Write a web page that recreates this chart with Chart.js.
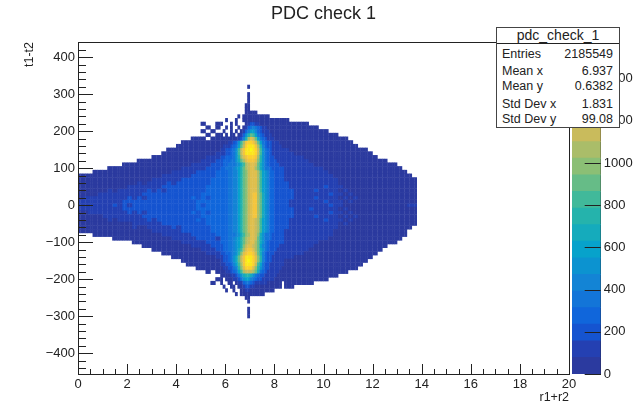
<!DOCTYPE html>
<html><head><meta charset="utf-8">
<script src="https://cdn.jsdelivr.net/npm/chart.js@4"></script>
<style>
html,body{margin:0;padding:0;background:#fff;width:637px;height:405px;overflow:hidden;font-family:"Liberation Sans",sans-serif}
#main{position:absolute;left:0;top:0}
#bar{position:absolute;left:560px;top:0}
#stats{position:absolute;left:496px;top:27px;width:122px;height:99px;border:1px solid #444;background:#fff;color:#222;z-index:5;font-size:12.5px}
#stats .t{position:absolute;left:0;right:0;top:0;height:15px;line-height:15px;border-bottom:1px solid #222;text-align:center;font-size:14px}
#stats .r{position:absolute;left:5px;right:6px;display:flex;justify-content:space-between;line-height:14px}
</style></head><body>
<canvas id="main" width="637" height="405"></canvas>
<canvas id="bar" width="77" height="405"></canvas>
<div id="stats"><div class="t">pdc_check_1</div></div>
<script>
const titleText = "PDC check 1";
const xTitle = "r1+r2";
const yTitle = "t1-t2";
const statNames = ["Entries","Mean x","Mean y","Std Dev x","Std Dev y"];
const statValues = ["2185549","6.937","0.6382","1.831","99.08"];
const palette = ["#2b3a9f","#2440b2","#1554d0","#1066db","#1375d8","#1384d5","#0c93d0","#07a2cb","#15abbc","#25b3ac","#41b99a","#66bc87","#8bbf75","#aabd69","#c9bb5c","#dfbf4d","#f4c53c","#fdd12c","#fbe61d","#f9fb0e"];
const zStep = 78.65;
const zTickValues = [0,200,400,600,800,1000,1200,1400];
const outerColWidth = 0.2;
const bandColWidth = 0.1;
const rowHeight = 10;
const rowCenters = [320,310,300,290,280,270,260,250,240,230,220,210,200,190,180,170,160,150,140,130,120,110,100,90,80,70,60,50,40,30,20,10,0,-10,-20,-30,-40,-50,-60,-70,-80,-90,-100,-110,-120,-130,-140,-150,-160,-170,-180,-190,-200,-210,-220,-230,-240,-250,-260,-270,-280,-290,-300];
const cellRows = [
"|...........0..............|",
"|..........................|",
"|...........0..............|",
"|...........0..............|",
"|...........0..............|",
"|..........00..............|",
"|..........00..............|",
"|..........00000...........|",
"|.......0.00000000000......|",
"|..0...0..00000000000000000|0",
"0..0|0...0.0...0122110000000000|00000",
"0.0|..0.0..0.01345432110000000|0000000",
".0.0.|.0..0.0.013577532111000000|000000000",
".0.0|0.0.00.01369ba743211100000|00000000000",
"000.00|00000001259dfeb74321110000|0000000000000",
"00000000|00011236adghhgeb7432211100|00000000000000",
"000000000|01112347behiiigd9532211110|000000000000000",
"00000000000|1122346aegiijihea643211111|10000000000000000",
"000000000001|1122346aegiiiihea643211111|110000000000000000",
"00000000000111|22333469dfghhhgd9643221111|1111000000000000000",
"00000000000001112|23334468bdfgggfc9643222111|111110000000000000000",
"00000000000000111122|233444568adeffeb8643222211|11111100000000000000000",
"00000000000000011111222|334445679bdeffdb8644322222|111111110000000000000000",
"00000000000000001111122223|333445579bcefffda765332222|1111111110000000000000000",
"00000000000000000111111222223|333445579bcefffda765332222|11111111110000000000000000",
"00000000000000011111122222233|333445579bcefffda765332222|111111111110000000000000000",
"00000000000010111121222222233|333445579bcefffda765332222|211111111110000000000000000",
"00000000001111111222222222333|333445579bcefffda765332222|211111112111000000000000000",
"00000010111111212122222222333|333445579bcefffda765332222|221111211110100000000000000",
"00001111111112222222222223333|333445579bcefggdb865332222|221111111211010000000000000",
"01111111112121222222222323233|333445579bcefggdb865332222|221111211110101000000000000",
"11111111122222222222222233333|333445579bcefggdb865332222|211111112111010000000000000",
"11111112121222222222222232333|333445579bcefggdb865332222|211111111211000000000000011",
"11111111122222222222222233333|333445579bcefggdb865332222|221112111110100000000000000",
"00111111112121222222222323233|333445579bcefggdb865332222|221111111211010000000000000",
"00000111111112222222222223333|333445579bcefggdb865332222|221111211110101000000000000",
"00000010111111212222222232333|333445579bceffeda765332222|211111112111010000000000000",
"00000000000111111222222222333|333445579bceffeda765332222|211111111110100000000000000",
"00000000000100111112122222233|333445579bceffeda765332222|21111111111000000000000000",
"00000000000000011111122222233|333445579bceffeda765332222|1111111111000000000000000",
"00000000000000111111222223|333444568acdffec8644322222|1111111111000000000000000",
"0000000000001111122221|333445679bdeffeb8644322222|111111111000000000000000",
"000000000011111222|333445679bdeffdb8643222222|11111110000000000000000",
"0000000000111122|233445679ceffedb7543222211|111111000000000000000",
"00000000001112|23344568adfggfdb8643222111|11111000000000000000",
"000000000111|22334569cfghhgeb8532221111|1111000000000000000",
"0000000001|1223468begiiihfc9532211111|110000000000000000",
"00000000|1223468begijihfc9532211111|00000000000000000",
"0000000|1122357adgiiihea7422111111|0000000000000000",
"00000|01122459cfhhhfc96422111110|000000000000000",
"0.0|00112347adeeedb84321111100|0000000000000",
".|00001124689986432211111000|00000000000",
".0|0.000112467754322111110000|000000000",
"0.|0..00.0113443211111000000|000000",
"|.0..00.001221100000000000|00",
"|..0..0..00110000000000....|",
"|......0.0000000000.......|",
"|..........00..............|",
"|...........0..............|",
"|..........................|",
"|...........0..............|",
"|...........0..............|",
"|...........0..............|"
];
const bandStartX = 5.8;
const bandEndX = 8.4;
const levelChars = "0123456789abcdefghij";
const xTickStep = 0.5, yTickStep = 20;

const ink = "#222";
const fontFamily = '"Liberation Sans", sans-serif';

// turn the typed rows into one floating-bar dataset per colour level
const cellsByLevel = palette.map(() => []);
cellRows.forEach((row, r) => {
  const [left, band, right] = row.split("|");
  const span = [rowCenters[r] - rowHeight * 0.56, rowCenters[r] + rowHeight * 0.56];
  const put = (ch, x) => {
    const lv = levelChars.indexOf(ch);
    if (lv >= 0) cellsByLevel[lv].push({x: +x.toFixed(2), y: span});
  };
  const putOuter = (ch, x0) => { put(ch, x0 + 0.05); put(ch, x0 + 0.15); };
  [...left].forEach((ch, i) => putOuter(ch, bandStartX - (left.length - i) * outerColWidth));
  [...band].forEach((ch, i) => put(ch, bandStartX + (i + 0.5) * bandColWidth));
  [...right].forEach((ch, i) => putOuter(ch, bandEndX + i * outerColWidth));
});

function inwardTicks(scaleId, majorTest, majorLen, minorLen, frame) {
  return {
    id: "ticks" + scaleId,
    afterDatasetsDraw(chart) {
      const ctx = chart.ctx, a = chart.chartArea, s = chart.scales[scaleId];
      ctx.save();
      ctx.strokeStyle = ink; ctx.lineWidth = 1;
      ctx.beginPath();
      s.ticks.forEach(t => {
        const len = majorTest(t.value) ? majorLen : minorLen;
        if (!len) return;
        const p = Math.round(s.getPixelForValue(t.value)) + 0.5;
        if (s.axis === "x") { ctx.moveTo(p, a.bottom); ctx.lineTo(p, a.bottom - len); }
        else if (s.position === "left") { ctx.moveTo(a.left, p); ctx.lineTo(a.left + len, p); }
        else { ctx.moveTo(a.right, p); ctx.lineTo(a.right - len, p); }
      });
      ctx.stroke();
      if (frame) {
        ctx.strokeRect(Math.round(a.left) + 0.5, Math.round(a.top) + 0.5, Math.round(a.width), Math.round(a.height));
      }
      ctx.restore();
    }
  };
}

new Chart(document.getElementById("main"), {
  type: "bar",
  data: {datasets: palette.map((c, i) => ({
    data: cellsByLevel[i], backgroundColor: c, borderWidth: 0,
    barPercentage: 1.15, categoryPercentage: 1, grouped: false
  }))},
  options: {
    responsive: false, animation: false, events: [],
    layout: {padding: {left: 0, right: 68, top: 0, bottom: 0}},
    plugins: {
      legend: {display: false}, tooltip: {enabled: false},
      title: {display: true, fullSize: false, text: titleText, color: ink, font: {family: fontFamily, size: 18, weight: "normal"}, padding: {top: 3, bottom: 17.4}}
    },
    scales: {
      x: {type: "linear", min: 0, max: 20, stacked: false, offset: false,
        grid: {display: false, drawTicks: false}, border: {display: false},
        ticks: {stepSize: xTickStep, autoSkip: false, maxRotation: 0, padding: 3, color: ink, font: {family: fontFamily, size: 13},
          callback: v => (v % 2 === 0 ? String(v) : "")},
        title: {display: true, text: xTitle, align: "end", color: ink, padding: 0, font: {family: fontFamily, size: 12.5}},
        afterFit(s) { s.height = 31; }},
      y: {type: "linear", min: -456, max: 441,
        grid: {display: false, drawTicks: false}, border: {display: false},
        ticks: {stepSize: yTickStep, includeBounds: false, autoSkip: false, padding: 3, color: ink, font: {family: fontFamily, size: 13},
          callback: v => (v % 100 === 0 ? String(v).replace("-", "\u2212") : "")},
        title: {display: true, text: yTitle, align: "end", color: ink, padding: {top: 22, bottom: 0}, font: {family: fontFamily, size: 12.5}},
        afterFit(s) { s.width = 78; }}
    }
  },
  plugins: [inwardTicks("x", v => v % 2 === 0, 10, 5, true), inwardTicks("y", v => v % 100 === 0, 15, 8, false)]
});

new Chart(document.getElementById("bar"), {
  type: "bar",
  data: {labels: ["z"], datasets: palette.map((c, i) => ({
    data: [[i * zStep, (i + 1) * zStep]], backgroundColor: c, borderWidth: 0,
    barPercentage: 1, categoryPercentage: 1, grouped: false, yAxisID: "z"
  }))},
  options: {
    responsive: false, animation: false, events: [],
    layout: {padding: {left: 12, right: 0, top: 42, bottom: 0}},
    plugins: {legend: {display: false}, tooltip: {enabled: false}},
    scales: {
      x: {display: true, grid: {display: false, drawTicks: false}, border: {display: false}, ticks: {display: false}, afterFit(s) { s.height = 31; }},
      z: {position: "right", axis: "y", type: "linear", min: 0, max: zStep * 20,
        grid: {display: false, drawTicks: false}, border: {display: true, color: ink},
        afterBuildTicks(s) { s.ticks = zTickValues.map(value => ({value})); },
        ticks: {autoSkip: false, padding: 3, color: ink, font: {family: fontFamily, size: 13}, callback: v => String(v)},
        afterFit(s) { s.width = 36.3; }}
    }
  },
  plugins: [inwardTicks("z", () => true, 16, 0, false)]
});

const statsBox = document.getElementById("stats");
const statTops = [19, 36, 51, 69, 84];
statNames.forEach((n, i) => {
  const d = document.createElement("div");
  d.className = "r"; d.style.top = statTops[i] + "px";
  const a = document.createElement("span"); a.textContent = n;
  const b = document.createElement("span"); b.textContent = statValues[i];
  d.append(a, b); statsBox.append(d);
});
</script>
</body></html>
